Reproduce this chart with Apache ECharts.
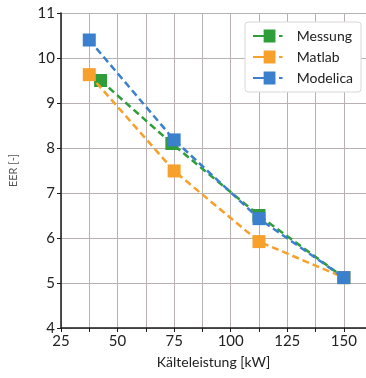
<!DOCTYPE html>
<html><head><meta charset="utf-8">
<script src="https://cdn.jsdelivr.net/npm/echarts@6/dist/echarts.min.js"></script>
<style>html,body{margin:0;padding:0;background:#fff}#c{width:366px;height:378px}</style>
</head><body><div id="c"></div>
<script>
const seriesNames = ['Messung', 'Matlab', 'Modelica'];
const xMessung = [42.5, 74, 112.5, 150];
const yMessung = [9.5, 8.1, 6.5, 5.12];
const xMatlab = [37.5, 75, 112.5, 150];
const yMatlab = [9.63, 7.49, 5.92, 5.12];
const xModelica = [37.5, 75, 112.5, 150];
const yModelica = [10.4, 8.18, 6.43, 5.12];
const xTickLabels = ['25', '50', '75', '100', '125', '150'];
const yTickLabels = ['4', '5', '6', '7', '8', '9', '10', '11'];
const colors = ['#2f9e3a', '#f7a02c', '#3b80cc'];

const pairs = (xs, ys) => xs.map((x, i) => [x, ys[i]]);
const dataSets = [pairs(xMessung, yMessung), pairs(xMatlab, yMatlab), pairs(xModelica, yModelica)];
const font = 'Lato, "Open Sans", sans-serif';
const icon = 'path://M0,5.2h9v1.6h-9z M9,0.5h10v11h-10z M22,5.2h3v1.6h-3z';

const chart = echarts.init(document.getElementById('c'));
chart.setOption({
  backgroundColor: '#ffffff',
  animation: false,
  grid: {left: 57, top: 13, right: 0, bottom: 50, containLabel: false},
  legend: {
    data: seriesNames,
    orient: 'vertical',
    left: 245, top: 22,
    itemWidth: 36, itemHeight: 13, itemGap: 7,
    padding: [7, 8, 7, 8],
    backgroundColor: '#ffffff',
    borderColor: '#d8d8d8', borderWidth: 1, borderRadius: 3,
    textStyle: {fontFamily: font, fontSize: 14, color: '#222', padding: [0, 0, 0, 6]},
    icon: icon
  },
  xAxis: {
    type: 'value', min: 25, max: 159.8, interval: 12.5,
    name: 'Kälteleistung [kW]', nameLocation: 'middle', nameGap: 27,
    nameTextStyle: {fontFamily: font, fontSize: 14, color: '#222'},
    axisLine: {show: true, onZero: false, lineStyle: {color: '#1a1a1a', width: 1.5}},
    axisTick: {show: true, length: 4, lineStyle: {color: '#1a1a1a'}},
    axisLabel: {fontFamily: font, fontSize: 15, color: '#222', margin: 6, showMaxLabel: false,
      formatter: v => xTickLabels.includes(String(v)) ? String(v) : ''},
    splitLine: {show: true, lineStyle: {color: '#b9b1b1', width: 1}}
  },
  yAxis: {
    type: 'value', min: 4, max: 11, interval: 1,
    name: 'EER [-]', nameLocation: 'middle', nameGap: 42,
    nameTextStyle: {fontFamily: font, fontSize: 11, color: '#555'},
    axisLine: {show: true, onZero: false, lineStyle: {color: '#1a1a1a', width: 1.5}},
    axisTick: {show: true, length: 4, lineStyle: {color: '#1a1a1a'}},
    axisLabel: {fontFamily: font, fontSize: 15, color: '#222', margin: 6,
      formatter: v => yTickLabels.includes(String(v)) ? String(v) : ''},
    splitLine: {show: true, lineStyle: {color: '#b9b1b1', width: 1}}
  },
  series: seriesNames.map((n, i) => ({
    name: n, type: 'line', data: dataSets[i],
    symbol: 'rect', symbolSize: 13,
    itemStyle: {color: colors[i]},
    lineStyle: {color: colors[i], width: 2.5, type: [7, 4]},
    z: 2 + i
  }))
});
</script></body></html>
